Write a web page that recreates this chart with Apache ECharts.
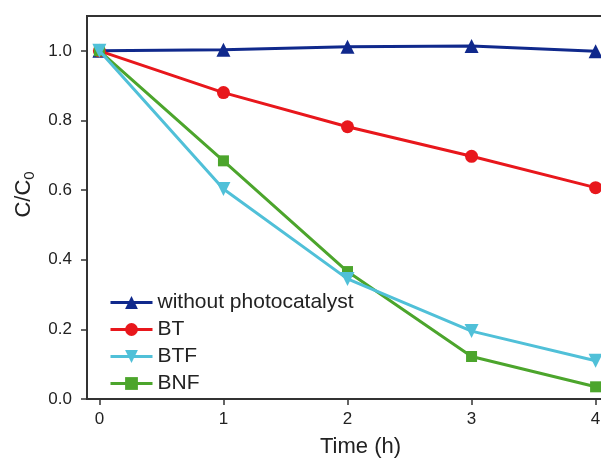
<!DOCTYPE html>
<html>
<head>
<meta charset="utf-8">
<script src="https://cdn.jsdelivr.net/npm/echarts@6/dist/echarts.min.js"></script>
<style>
  html, body { margin: 0; padding: 0; background: #fff; }
  #chart { width: 601px; height: 462px; }
</style>
</head>
<body>
<div id="chart"></div>
<script>
// Time points (h) and normalised concentration C/C0 for each sample
const hours = [0, 1, 2, 3, 4];
const withoutCatalyst = [1.0, 1.003, 1.012, 1.014, 0.999];
const bt = [1.0, 0.880, 0.782, 0.697, 0.607];
const btf = [1.0, 0.603, 0.345, 0.195, 0.110];
const bnf = [1.0, 0.684, 0.366, 0.122, 0.035];
const xTicks = [0, 1, 2, 3, 4];
const yTicks = [0, 0.2, 0.4, 0.6, 0.8, 1.0];

const pairs = (ys) => hours.map((h, i) => [h, ys[i]]);
const axisColor = '#333333';
const font = 'Liberation Sans, Arial, sans-serif';

const chart = echarts.init(document.getElementById('chart'), null, { renderer: 'canvas' });

function lineSeries(name, data, color, symbol, size, extra) {
  return Object.assign({
    name: name,
    type: 'line',
    data: pairs(data),
    symbol: symbol,
    symbolSize: size,
    lineStyle: { color: color, width: 3 },
    itemStyle: { color: color },
    emphasis: { disabled: true },
    animation: false
  }, extra || {});
}

chart.setOption({
  animation: false,
  // plot box runs slightly past the right edge of the canvas
  grid: {
    left: 87, top: 16, width: 521, height: 383,
    outerBoundsMode: 'none',
    containLabel: false,
    show: true, borderColor: axisColor, borderWidth: 2, backgroundColor: 'transparent'
  },
  legend: {
    orient: 'vertical',
    left: 104, top: 287,
    itemWidth: 42, itemHeight: 16, itemGap: 6,
    lineStyle: { width: 3 },
    textStyle: { fontFamily: font, fontSize: 21, color: '#222' },
    data: ['without photocatalyst', 'BT', 'BTF', 'BNF']
  },
  xAxis: {
    type: 'value',
    min: -0.1, max: 4.1,
    name: 'Time (h)',
    nameLocation: 'middle',
    nameGap: 37,
    nameTextStyle: { fontFamily: font, fontSize: 22, color: '#222', padding: [0, 0, 0, 26] },
    axisLine: { show: true, onZero: false, lineStyle: { color: axisColor, width: 2 } },
    axisTick: { show: true, length: 6, customValues: xTicks, lineStyle: { color: axisColor, width: 1.5 } },
    axisLabel: { customValues: xTicks, margin: 12, fontFamily: font, fontSize: 17, color: '#222' },
    splitLine: { show: false }
  },
  yAxis: {
    type: 'value',
    min: 0, max: 1.1,
    name: 'C/C{sub|0}',
    nameLocation: 'middle',
    nameGap: 48,
    nameTextStyle: {
      fontFamily: font, fontSize: 22, color: '#222', padding: [0, 0, 0, 26],
      rich: { sub: { fontFamily: font, fontSize: 15, color: '#222', padding: [12, 0, 0, 0] } }
    },
    axisLine: { show: true, onZero: false, lineStyle: { color: axisColor, width: 2 } },
    axisTick: { show: true, length: 6, customValues: yTicks, lineStyle: { color: axisColor, width: 1.5 } },
    axisLabel: {
      customValues: yTicks, margin: 15, fontFamily: font, fontSize: 17, color: '#222',
      formatter: (v) => v.toFixed(1)
    },
    splitLine: { show: false }
  },
  series: [
    lineSeries('without photocatalyst', withoutCatalyst, '#10298c', 'triangle', 14, { z: 2 }),
    lineSeries('BT', bt, '#e8171c', 'circle', 13, { z: 3 }),
    lineSeries('BNF', bnf, '#4ca52c', 'rect', 11, { z: 4 }),
    lineSeries('BTF', btf, '#50c0d8', 'triangle', 14, { z: 5, symbolRotate: 180 })
  ]
});
</script>
</body>
</html>
